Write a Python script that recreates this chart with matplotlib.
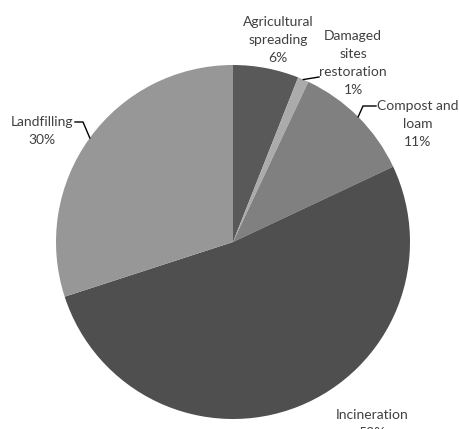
import numpy as np
import matplotlib
matplotlib.use("Agg")
import matplotlib.pyplot as plt

plt.rcParams["font.family"] = ["Lato", "DejaVu Sans"]

# ---------- data ----------
labels = ["Agricultural\nspreading", "Damaged\nsites\nrestoration", "Compost and\nloam",
          "Incineration", "Landfilling"]
shares = [6, 1, 11, 52, 30]
colors = ["#595959", "#ababab", "#808080", "#4f4f4f", "#979797"]

# label text centres, in pixels of the original (x from left, y from top)
label_px = [(278, 40), (353, 63), (418, 124), (372, 424), (42, 131)]
# leader line: end next to text, optional elbow (pixels)
leader_px = [None, [(319, 77)], [(363, 106), (376, 106)], None, [(83, 122), (75, 122)]]

W, H = 460, 429
CX, CY, R = 233, 242, 177


def to_data(px, py):
    return (px - CX) / R, (CY - py) / R


fig = plt.figure(figsize=(W / 100, H / 100), dpi=100)
ax = fig.add_axes([0, 0, 1, 1])
ax.pie(shares, colors=colors, startangle=90, counterclock=False, radius=1.0,
       wedgeprops=dict(linewidth=0))
ax.set_xlim(-CX / R, (W - CX) / R)
ax.set_ylim(-(H - CY) / R, CY / R)
ax.set_aspect("equal")
ax.axis("off")

total = float(sum(shares))
cum = np.cumsum([0] + shares[:-1])
for i, (lab, val) in enumerate(zip(labels, shares)):
    tx, ty = to_data(*label_px[i])
    ax.text(tx, ty, f"{lab}\n{val}%", ha="center", va="center", fontsize=10,
            color="#404040", linespacing=1.6)
    if leader_px[i] is not None:
        ang = np.deg2rad(90 - (cum[i] + val / 2) / total * 360)
        pts = [(np.cos(ang), np.sin(ang))] + [to_data(*p) for p in leader_px[i]]
        xs, ys = zip(*pts)
        ax.plot(xs, ys, color="black", lw=1.0)

fig.savefig("out.png", dpi=100)
